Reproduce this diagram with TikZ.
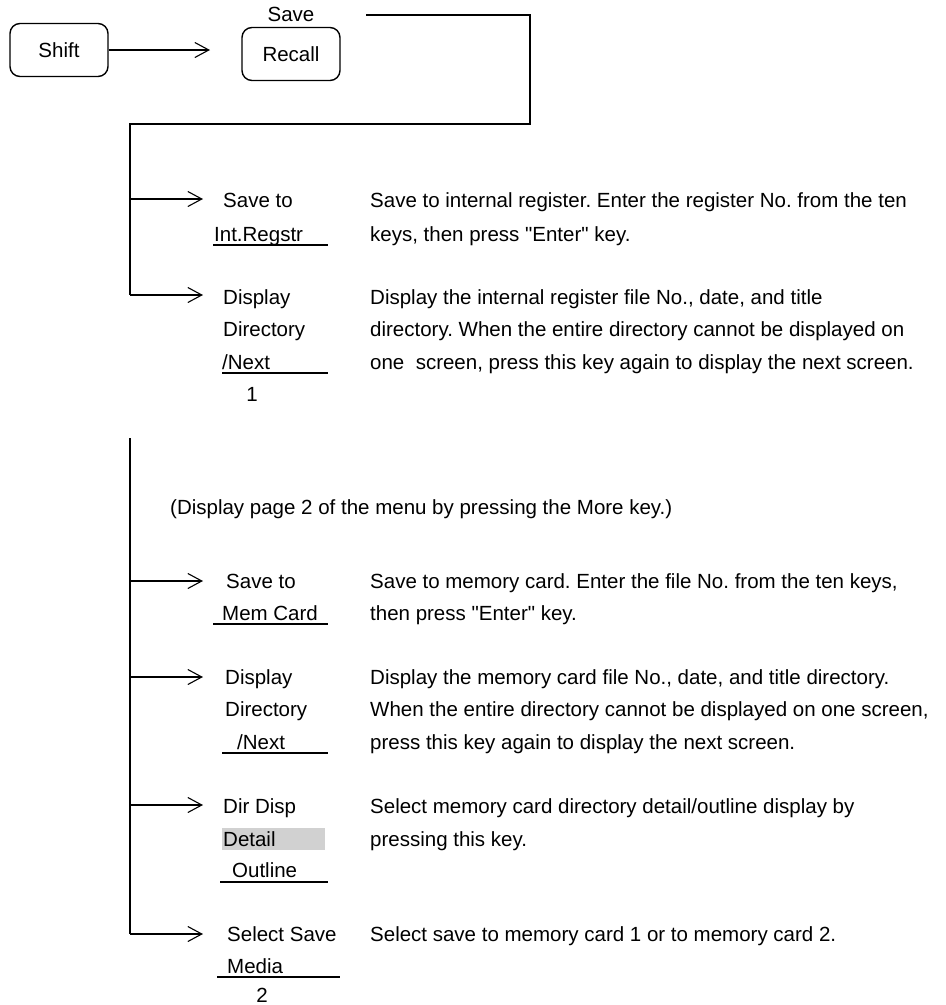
\documentclass[tikz,border=0pt]{standalone}
\usepackage{fontspec}
\setmainfont{Liberation Sans}[Ligatures=TeXOff]
\usetikzlibrary{arrows.meta}
\newcommand\myfs{\fontsize{20.5}{24}\selectfont\frenchspacing}
\begin{document}
\begin{tikzpicture}[x=1pt,y=-1pt,
  key/.style={draw, line width=1.4pt, rounded corners=10pt, minimum width=98pt, minimum height=53pt, inner sep=0pt, font=\myfs},
  wire/.style={line width=1.1pt},
  arr/.style={wire, -{Straight Barb[length=14pt,width=15pt]}},
  txt/.style={anchor=base west, inner sep=0pt, font=\myfs},
  ctxt/.style={anchor=base, inner sep=0pt, font=\myfs},
  uline/.style={line width=1.3pt},
  shade/.style={fill=black!18, draw=none},
]
\useasboundingbox (0,0) rectangle (946,1005);

% keys
\node[key] (shift) at (59,50) {Shift};
\node[key] (recall) at (291,54) {Recall};
\node[ctxt] (savelbl) at (291,21) {Save};
\coordinate (a0) at (210,50);
\draw[arr] (shift.east) -- (a0);

% bus 1
\coordinate (tl) at (366,15);
\coordinate (tr) at (530,15);
\coordinate (br) at (530,124);
\coordinate (bl) at (130,124);
\coordinate (j1) at (130,199);
\coordinate (j2) at (130,295);
\coordinate (e1) at (203,199);
\coordinate (e2) at (203,295);
\draw[wire] (tl) -- (tr) -- (br) -- (bl) -- (j2);
\draw[arr] (j1) -- (e1);
\draw[arr] (j2) -- (e2);

% item 1
\node[txt] (k1a) at (223,207) {Save to};
\node[txt] (k1b) at (214,241) {Int.Regstr};
\draw[uline] (213,245) -- (328,245);
\node[txt] (d1a) at (370,207) {Save to internal register. Enter the register No. from the ten};
\node[txt] (d1b) at (370,241) {keys, then press "Enter" key.};

% item 2
\node[txt] (k2a) at (223,304) {Display};
\node[txt] (k2b) at (223,336) {Directory};
\node[txt] (k2c) at (222,369) {/Next};
\draw[uline] (222,373) -- (328,373);
\node[ctxt] (p1) at (252,401) {1};
\node[txt] (d2a) at (370,304) {Display the internal register file No., date, and title};
\node[txt] (d2b) at (370,336) {directory. When the entire directory cannot be displayed on};
\node[txt] (d2c) at (370,369) {one\ \ screen, press this key again to display the next screen.};

% page 2 note
\node[txt] (note) at (170,514) {(Display page 2 of the menu by pressing the More key.)};

% bus 2
\coordinate (v2t) at (130,438);
\coordinate (j3) at (130,581);
\coordinate (j4) at (130,677);
\coordinate (j5) at (130,805);
\coordinate (j6) at (130,934);
\coordinate (e3) at (203,581);
\coordinate (e4) at (203,677);
\coordinate (e5) at (203,805);
\coordinate (e6) at (203,934);
\draw[wire] (v2t) -- (j6);
\draw[arr] (j3) -- (e3);
\draw[arr] (j4) -- (e4);
\draw[arr] (j5) -- (e5);
\draw[arr] (j6) -- (e6);

% item 3
\node[txt] (k3a) at (226,588) {Save to};
\node[txt] (k3b) at (222,620) {Mem Card};
\draw[uline] (213,624) -- (328,624);
\node[txt] (d3a) at (370,588) {Save to memory card. Enter the file No. from the ten keys,};
\node[txt] (d3b) at (370,620) {then press "Enter" key.};

% item 4
\node[txt] (k4a) at (225,684) {Display};
\node[txt] (k4b) at (225,716) {Directory};
\node[txt] (k4c) at (237,749) {/Next};
\draw[uline] (222,753) -- (328,753);
\node[txt] (d4a) at (370,684) {Display the memory card file No., date, and title directory.};
\node[txt] (d4b) at (370,716) {When the entire directory cannot be displayed on one screen,};
\node[txt] (d4c) at (370,749) {press this key again to display the next screen.};

% item 5
\node[txt] (k5a) at (223,813) {Dir Disp};
\fill[shade] (222,828) rectangle (325,850);
\node[txt] (k5b) at (223,846) {Detail};
\node[txt] (k5c) at (232,877) {Outline};
\draw[uline] (220,882) -- (328,882);
\node[txt] (d5a) at (370,813) {Select memory card directory detail/outline display by};
\node[txt] (d5b) at (370,846) {pressing this key.};

% item 6
\node[txt] (k6a) at (227,941) {Select Save};
\node[txt] (k6b) at (227,973) {Media};
\draw[uline] (217,977) -- (340,977);
\node[ctxt] (p2) at (262,1002) {2};
\node[txt] (d6a) at (370,941) {Select save to memory card 1 or to memory card 2.};
\end{tikzpicture}
\end{document}
